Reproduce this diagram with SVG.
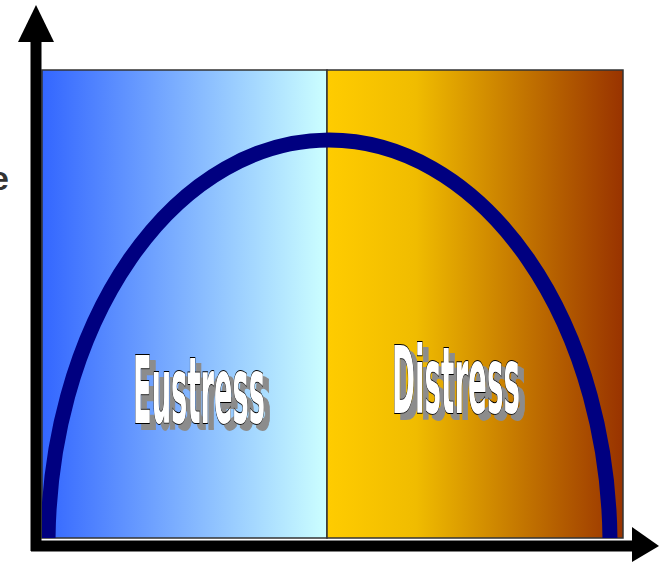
<svg xmlns="http://www.w3.org/2000/svg" width="659" height="562" viewBox="0 0 659 562">
<style>
.lbl{font-family:"DejaVu Sans","Liberation Sans",sans-serif;font-size:92px;font-weight:bold;fill:#fff;stroke:#000;stroke-width:2;paint-order:stroke;filter:url(#shadow);}
.axis{stroke:#000;stroke-width:11;fill:none;}
</style>
<defs>
<linearGradient id="gBlue" x1="0" y1="0" x2="1" y2="0">
<stop offset="0" stop-color="#3366FF"/>
<stop offset="1" stop-color="#CCFFFF"/>
</linearGradient>
<linearGradient id="gGold" x1="0" y1="0" x2="1" y2="0">
<stop offset="0" stop-color="#FFCC00"/>
<stop offset="0.3" stop-color="#F0BC00"/>
<stop offset="1" stop-color="#993300"/>
</linearGradient>
<clipPath id="clipBox"><rect x="42" y="70" width="581" height="468"/></clipPath>
<filter id="shadow" x="-10%" y="-10%" width="130%" height="130%">
<feFlood flood-color="#8c8c8c" result="c"/>
<feComposite in="c" in2="SourceAlpha" operator="in" result="s"/>
<feOffset in="s" dx="6" dy="6" result="o"/>
<feMerge><feMergeNode in="o"/><feMergeNode in="SourceGraphic"/></feMerge>
</filter>
</defs>
<g id="eustress-region">
<rect x="42" y="70" width="285" height="468" fill="url(#gBlue)" stroke="#333" stroke-width="1.5"/>
</g>
<g id="distress-region">
<rect x="327" y="70" width="296" height="468" fill="url(#gGold)" stroke="#333" stroke-width="1.5"/>
</g>
<g id="curve">
<path d="M 48 545 A 281 405 0 0 1 610 545" fill="none" stroke="#000080" stroke-width="15" clip-path="url(#clipBox)"/>
</g>
<g id="eustress-label">
<text class="lbl" x="133" y="423" textLength="132" lengthAdjust="spacingAndGlyphs">Eustress</text>
</g>
<g id="distress-label">
<text class="lbl" x="392" y="413" textLength="128" lengthAdjust="spacingAndGlyphs">Distress</text>
</g>
<g id="axes">
<line class="axis" x1="36" y1="40" x2="36" y2="551"/>
<line class="axis" x1="31" y1="546" x2="634" y2="546"/>
<polygon points="36,5 18,42 54,42" fill="#000"/>
<polygon points="659,546 632,527 632,562" fill="#000"/>
</g>
<g id="y-label">
<text x="9" y="190" text-anchor="end" font-family="Liberation Sans, Arial, sans-serif" font-weight="bold" font-size="34" fill="#333">e</text>
</g>
</svg>
